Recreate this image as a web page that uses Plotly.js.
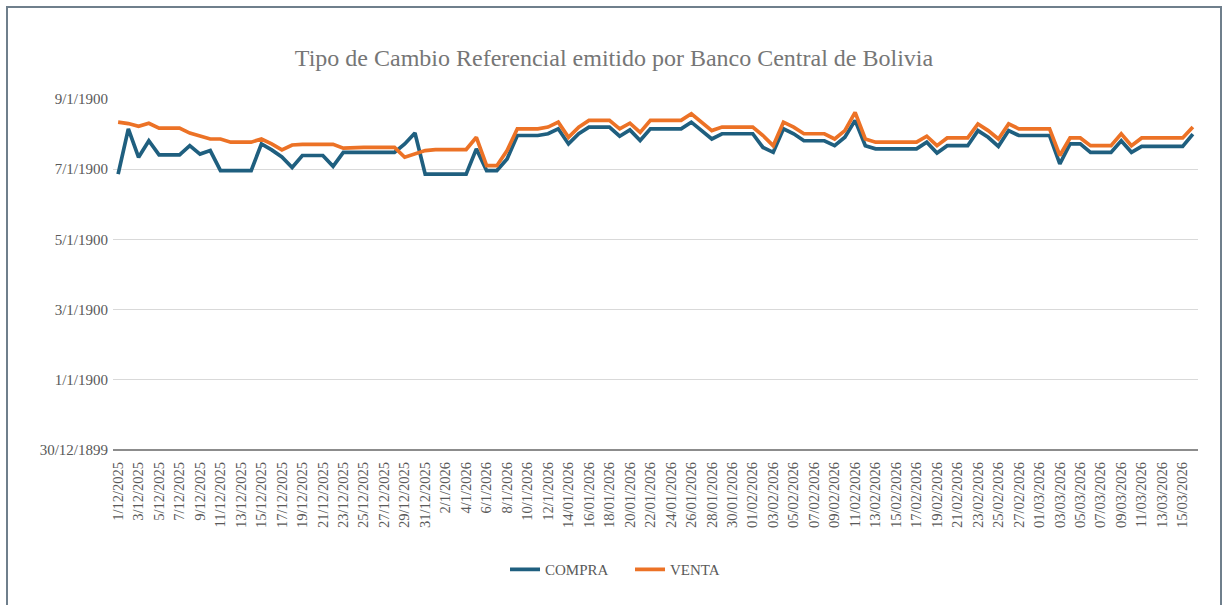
<!DOCTYPE html>
<html>
<head>
<meta charset="utf-8">
<script src="https://cdn.plot.ly/plotly-3.0.1.min.js"></script>
<style>
html,body{margin:0;padding:0;background:#fff;}
#wrap{position:relative;width:1228px;height:605px;overflow:hidden;}
#chart{width:1228px;height:605px;}
#frame{position:absolute;left:6px;top:6px;width:1212px;height:640px;border:2px solid #6f7f8c;pointer-events:none;}
</style>
</head>
<body>
<div id="wrap"><div id="chart"></div><div id="frame"></div></div>
<script>
const fechas = [
"1/12/2025","2/12/2025","3/12/2025","4/12/2025","5/12/2025","6/12/2025","7/12/2025","8/12/2025","9/12/2025","10/12/2025",
"11/12/2025","12/12/2025","13/12/2025","14/12/2025","15/12/2025","16/12/2025","17/12/2025","18/12/2025","19/12/2025","20/12/2025",
"21/12/2025","22/12/2025","23/12/2025","24/12/2025","25/12/2025","26/12/2025","27/12/2025","28/12/2025","29/12/2025","30/12/2025",
"31/12/2025","1/1/2026","2/1/2026","3/1/2026","4/1/2026","5/1/2026","6/1/2026","7/1/2026","8/1/2026","9/1/2026",
"10/1/2026","11/1/2026","12/1/2026","13/01/2026","14/01/2026","15/01/2026","16/01/2026","17/01/2026","18/01/2026","19/01/2026",
"20/01/2026","21/01/2026","22/01/2026","23/01/2026","24/01/2026","25/01/2026","26/01/2026","27/01/2026","28/01/2026","29/01/2026",
"30/01/2026","31/01/2026","01/02/2026","02/02/2026","03/02/2026","04/02/2026","05/02/2026","06/02/2026","07/02/2026","08/02/2026",
"09/02/2026","10/02/2026","11/02/2026","12/02/2026","13/02/2026","14/02/2026","15/02/2026","16/02/2026","17/02/2026","18/02/2026",
"19/02/2026","20/02/2026","21/02/2026","22/02/2026","23/02/2026","24/02/2026","25/02/2026","26/02/2026","27/02/2026","28/02/2026",
"01/03/2026","02/03/2026","03/03/2026","04/03/2026","05/03/2026","06/03/2026","07/03/2026","08/03/2026","09/03/2026","10/03/2026",
"11/03/2026","12/03/2026","13/03/2026","14/03/2026","15/03/2026","16/03/2026"
];

const compra = [
7.86,9.15,8.34,8.81,8.41,8.41,8.41,8.67,8.43,8.53,
7.96,7.96,7.96,7.96,8.72,8.55,8.35,8.05,8.39,8.39,
8.39,8.08,8.48,8.48,8.48,8.48,8.48,8.48,8.72,9.03,
7.86,7.86,7.86,7.86,7.86,8.58,7.96,7.96,8.29,8.96,
8.96,8.96,9.01,9.15,8.72,9.01,9.20,9.20,9.20,8.94,
9.12,8.82,9.15,9.15,9.15,9.15,9.34,9.10,8.86,9.01,
9.01,9.01,9.01,8.62,8.48,9.15,9.01,8.81,8.81,8.81,
8.67,8.91,9.39,8.67,8.58,8.58,8.58,8.58,8.58,8.77,
8.46,8.67,8.67,8.67,9.10,8.91,8.65,9.10,8.96,8.96,
8.96,8.96,8.15,8.72,8.72,8.48,8.48,8.48,8.81,8.48,
8.65,8.65,8.65,8.65,8.65,9.00
];

const venta = [
9.34,9.30,9.22,9.31,9.17,9.17,9.17,9.03,8.94,8.86,
8.86,8.77,8.77,8.77,8.86,8.72,8.55,8.69,8.71,8.71,
8.71,8.71,8.60,8.62,8.62,8.62,8.62,8.62,8.34,8.43,
8.53,8.56,8.56,8.56,8.56,8.91,8.10,8.10,8.53,9.15,
9.15,9.15,9.20,9.34,8.91,9.20,9.39,9.39,9.39,9.15,
9.31,9.05,9.39,9.39,9.39,9.39,9.58,9.34,9.10,9.20,
9.20,9.20,9.20,8.96,8.67,9.34,9.20,9.01,9.01,9.01,
8.86,9.10,9.62,8.86,8.77,8.77,8.77,8.77,8.77,8.94,
8.67,8.89,8.89,8.89,9.29,9.10,8.86,9.29,9.15,9.15,
9.15,9.15,8.39,8.89,8.89,8.67,8.67,8.67,9.01,8.67,
8.89,8.89,8.89,8.89,8.89,9.20
];

const yTickVals = [0, 2, 4, 6, 8, 10];
const yTickText = ["30/12/1899","1/1/1900","3/1/1900","5/1/1900","7/1/1900","9/1/1900"];

const xTickVals = fechas.filter((d, i) => i % 2 === 0);

const serif = 'Liberation Serif, Times New Roman, serif';
const gray = '#595959';

const traces = [
  {x: fechas, y: compra, name: 'COMPRA', type: 'scatter', mode: 'lines',
   line: {color: '#1f5f7f', width: 3.7}},
  {x: fechas, y: venta, name: 'VENTA', type: 'scatter', mode: 'lines',
   line: {color: '#ec7226', width: 3.7}}
];

const layout = {
  width: 1228, height: 605,
  margin: {l: 113, r: 30, t: 99, b: 155},
  paper_bgcolor: '#ffffff', plot_bgcolor: '#ffffff',
  font: {family: serif, color: gray, size: 12},
  title: {text: 'Tipo de Cambio Referencial emitido por Banco Central de Bolivia',
          font: {family: serif, size: 24, color: '#767676'},
          x: 0.5, xanchor: 'center', y: 0.905, yanchor: 'middle'},
  xaxis: {type: 'category', range: [-0.5, fechas.length - 0.5],
          tickmode: 'array', tickvals: xTickVals, ticktext: xTickVals,
          tickangle: -90, tickfont: {family: serif, size: 14.5, color: gray},
          ticklabelstandoff: 8,
          showgrid: false, zeroline: false, showline: false, ticks: ''},
  yaxis: {range: [0, 10], tickmode: 'array', tickvals: yTickVals, ticktext: yTickText,
          tickfont: {family: serif, size: 15, color: gray},
          ticklabelstandoff: 4,
          showgrid: true, gridcolor: '#d9d9d9', gridwidth: 1,
          zeroline: true, zerolinecolor: '#8c8c8c', zerolinewidth: 2,
          showline: false, ticks: '', automargin: false},
  showlegend: true,
  legend: {orientation: 'h', x: 0.3613, xanchor: 'left', y: -0.294, yanchor: 'top',
           font: {family: serif, size: 15, color: gray}, itemwidth: 30,
           entrywidth: 80, entrywidthmode: 'pixels'},
  hovermode: false
};

Plotly.newPlot('chart', traces, layout, {displayModeBar: false, staticPlot: true});
</script>
</body>
</html>
